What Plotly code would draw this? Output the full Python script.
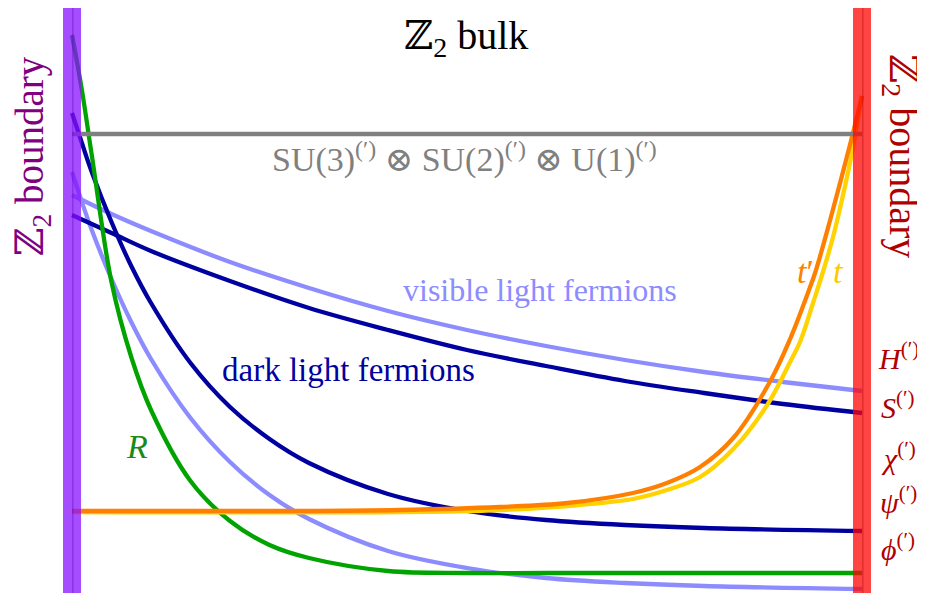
import plotly.graph_objects as go

# ---------------- data (x: position between the two Z2 boundaries, y: profile height) -------------
gauge_x = [0.0, 1.0]
gauge_y = [4.59, 4.59]

R_x = [0.0, 0.0125, 0.025, 0.05, 0.075, 0.1, 0.15, 0.2, 0.25, 0.3, 0.4, 0.5, 0.6, 1.0]
R_y = [5.58, 5.03, 4.38, 3.11, 2.36, 1.83, 1.12, 0.72, 0.48, 0.35, 0.22, 0.20, 0.20, 0.20]

dark_steep_x = [0.0, 0.0125, 0.025, 0.05, 0.075, 0.1, 0.15, 0.2, 0.25, 0.3, 0.4, 0.5, 0.6, 0.7, 0.8, 1.0]
dark_steep_y = [4.80, 4.50, 4.21, 3.71, 3.27, 2.90, 2.30, 1.86, 1.54, 1.30, 0.99, 0.82, 0.73, 0.68, 0.65, 0.62]

vis_steep_x = [0.0, 0.0125, 0.025, 0.05, 0.075, 0.1, 0.15, 0.2, 0.25, 0.3, 0.4, 0.5, 0.6, 0.7, 0.8, 1.0]
vis_steep_y = [4.21, 3.91, 3.63, 3.14, 2.71, 2.34, 1.75, 1.31, 0.98, 0.74, 0.42, 0.25, 0.15, 0.10, 0.07, 0.04]

vis_flat_x = [0.0, 0.05, 0.1, 0.2, 0.3, 0.4, 0.5, 0.6, 0.7, 0.8, 0.9, 1.0]
vis_flat_y = [3.98, 3.79, 3.62, 3.31, 3.05, 2.82, 2.63, 2.47, 2.33, 2.21, 2.11, 2.02]

dark_flat_x = [0.0, 0.05, 0.1, 0.2, 0.3, 0.4, 0.5, 0.6, 0.7, 0.8, 0.9, 1.0]
dark_flat_y = [3.78, 3.60, 3.42, 3.12, 2.85, 2.63, 2.43, 2.27, 2.12, 2.00, 1.89, 1.80]

tprime_x = [0.0, 0.289, 0.415, 0.542, 0.627, 0.710, 0.753, 0.795, 0.837, 0.884, 0.909, 0.932, 0.941,
            0.959, 0.987, 1.0]
tprime_y = [0.82, 0.82, 0.83, 0.86, 0.90, 1.00, 1.10, 1.26, 1.55, 2.12, 2.54, 3.01, 3.21,
            3.71, 4.55, 4.97]

t_x = [0.0, 0.415, 0.542, 0.627, 0.710, 0.753, 0.795, 0.837, 0.880, 0.909, 0.922, 0.938, 0.949,
       0.963, 0.978, 0.987, 1.0]
t_y = [0.81, 0.81, 0.83, 0.87, 0.94, 1.03, 1.16, 1.44, 1.88, 2.31, 2.52, 2.90, 3.17,
       3.55, 4.05, 4.39, 4.97]

brane_x = [0.0, 1.0]
right_labels = ["<i>H</i><sup>(′)</sup>", "<i>S</i><sup>(′)</sup>", "<i>χ</i><sup>(′)</sup>",
                "<i>ψ</i><sup>(′)</sup>", "<i>ϕ</i><sup>(′)</sup>"]

# ---------------- figure ----------------
PAGE_W, PAGE_H = 925, 593
OFF = 8                          # the html body margin around the figure
W, H = PAGE_W - OFF, PAGE_H - OFF
X0_PX, X1_PX = 72 - OFF, 862 - OFF   # figure pixel columns of the two boundaries
Y_SCALE = 100.0                  # pixels per y unit
xr = [-X0_PX / (X1_PX - X0_PX), (W - X0_PX) / (X1_PX - X0_PX)]
yr = [0, H / Y_SCALE]

SERIF = "Liberation Serif, DejaVu Serif, serif"

GRAY = "#808080"
GREEN = "#00a300"
LIGHT = "#8c8cff"
NAVY = "#0000a0"
ORANGE = "#ff8000"
YELLOW = "#ffd200"

fig = go.Figure()

def curve(x, y, color, width=4.3, shape="spline"):
    fig.add_trace(go.Scatter(x=x, y=y, mode="lines",
                             line=dict(color=color, width=width, shape=shape, smoothing=1.0),
                             hoverinfo="skip", showlegend=False))

curve(vis_steep_x, vis_steep_y, LIGHT)
curve(vis_flat_x, vis_flat_y, LIGHT)
curve(dark_steep_x, dark_steep_y, NAVY)
curve(dark_flat_x, dark_flat_y, NAVY)
curve(R_x, R_y, GREEN)
curve(t_x, t_y, YELLOW)
curve(tprime_x, tprime_y, ORANGE)
curve(gauge_x, gauge_y, GRAY, shape="linear")

# boundary bars (semi-transparent, above the curves)
half = 0.0114
bar_cols = ["rgba(136,17,255,0.75)", "rgba(255,5,5,0.75)"]
line_cols = ["rgba(90,0,190,0.35)", "rgba(170,0,0,0.35)"]
top = H / Y_SCALE
for bx, bc, lc in zip(brane_x, bar_cols, line_cols):
    fig.add_shape(type="rect", x0=bx - half, x1=bx + half, y0=-0.1, y1=top + 0.1,
                  fillcolor=bc, line=dict(width=0), layer="above")
    fig.add_shape(type="line", x0=bx + 0.001, x1=bx + 0.001, y0=-0.1, y1=top + 0.1,
                  line=dict(color=lc, width=1.5), layer="above")

def P(px, py):
    # page pixel -> paper coordinates
    return (px - OFF) / W, 1 - (py - OFF) / H

def label(text, px, py, color, size, angle=0):
    x, y = P(px, py)
    fig.add_annotation(x=x, y=y, xref="paper", yref="paper", text=text, showarrow=False,
                       font=dict(family=SERIF, size=size, color=color),
                       textangle=angle, xanchor="center", yanchor="middle")

label("ℤ<sub>2</sub> bulk", 466, 38, "#000000", 40)
label("ℤ<sub>2</sub> boundary", 32, 156, "#800080", 39, angle=-90)
label("ℤ<sub>2</sub> boundary", 901, 156, "#b00000", 40, angle=90)
label("SU(3)<sup>(′)</sup> ⊗ SU(2)<sup>(′)</sup> ⊗ U(1)<sup>(′)</sup>", 464, 157, GRAY, 34)
label("visible light fermions", 540, 290, LIGHT, 32)
label("dark light fermions", 348, 370, NAVY, 33)
label("<i>R</i>", 137, 446, "#1a8a1a", 34)
label("<i>t</i>′", 805, 272, ORANGE, 34)
label("<i>t</i>", 838, 272, "#ffc800", 34)
for txt, py in zip(right_labels, [356, 405, 456, 500, 547]):
    label(txt, 898, py, "#b00000", 30)

fig.update_layout(width=W, height=H, margin=dict(l=0, r=0, t=0, b=0),
                  paper_bgcolor="white", plot_bgcolor="white", showlegend=False,
                  xaxis=dict(range=xr, visible=False, fixedrange=True),
                  yaxis=dict(range=yr, visible=False, fixedrange=True))

fig.write_html("out.html")
